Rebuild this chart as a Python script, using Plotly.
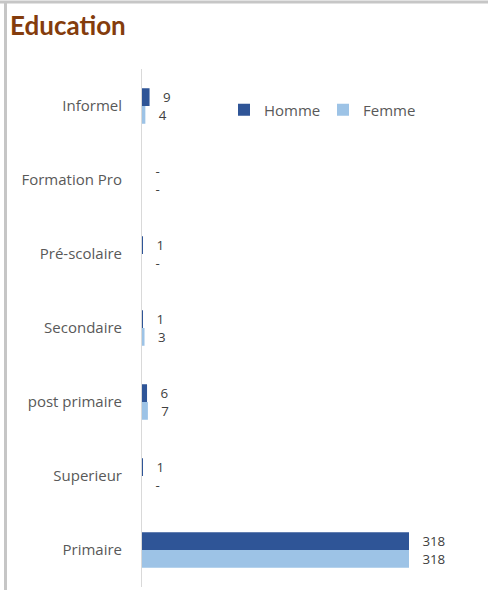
import plotly.graph_objects as go

categories = ["Informel", "Formation Pro", "Pré-scolaire", "Secondaire", "post primaire", "Superieur", "Primaire"]
homme = [9, 0, 1, 1, 6, 1, 318]
femme = [4, 0, 0, 3, 7, 0, 318]

def labels(vals):
    return [str(v) if v > 0 else "-" for v in vals]

FONT = "Open Sans"
W, H = 488, 590
L, R, T, B = 142, 18, 69, 3
pw, ph = W - L - R, H - T - B

def px(x):
    return (x - L) / pw

def py(y):
    return (H - B - y) / ph

fig = go.Figure()
fig.add_trace(go.Bar(
    y=categories, x=homme, name="Homme", orientation="h",
    marker=dict(color="#2F5597", line=dict(width=0)),
    text=labels(homme), texttemplate="\u00a0\u00a0\u00a0%{text}",
    textposition="outside", cliponaxis=False,
    textfont=dict(family=FONT, size=15, color="#404040"),
))
fig.add_trace(go.Bar(
    y=categories, x=femme, name="Femme", orientation="h",
    marker=dict(color="#9DC3E6", line=dict(width=0)),
    text=labels(femme), texttemplate="\u00a0\u00a0\u00a0%{text}",
    textposition="outside", cliponaxis=False,
    textfont=dict(family=FONT, size=15, color="#404040"),
))

fig.update_layout(
    width=W, height=H,
    margin=dict(l=L, r=R, t=T, b=B),
    paper_bgcolor="white", plot_bgcolor="white",
    barmode="group", bargap=0.52, bargroupgap=0,
    font=dict(family=FONT, size=15, color="#595959"),
    showlegend=True,
    legend=dict(orientation="h", x=px(224), y=py(110), xanchor="left", yanchor="middle",
                font=dict(family=FONT, size=15, color="#595959"),
                itemwidth=30, entrywidth=54, entrywidthmode="pixels",
                bgcolor="rgba(0,0,0,0)"),
    xaxis=dict(range=[0, pw / ((409 - 142) / 318)], showgrid=False, zeroline=False,
               showticklabels=False, showline=False, fixedrange=True),
    yaxis=dict(autorange="reversed", showgrid=False, zeroline=False, showline=True,
               linecolor="#D9D9D9", linewidth=1, ticks="", ticklabelstandoff=16,
               tickfont=dict(family=FONT, size=15, color="#595959"), fixedrange=True),
    annotations=[dict(text="<b>Education</b>", xref="paper", yref="paper",
                      x=px(8), y=py(25), xanchor="left", yanchor="middle",
                      showarrow=False,
                      font=dict(family="Lato", size=26, color="#843C0C"))],
    shapes=[
        dict(type="line", xref="paper", yref="paper", x0=px(0), x1=px(W), y0=py(2), y1=py(2),
             line=dict(color="#C6C6C6", width=3)),
        dict(type="line", xref="paper", yref="paper", x0=px(5.5), x1=px(5.5), y0=py(3), y1=py(H),
             line=dict(color="#C6C6C6", width=3)),
    ],
)

fig.write_html("out.html", config={"displayModeBar": False},
               post_script="document.body.style.margin='0';document.body.style.overflow='hidden';")
